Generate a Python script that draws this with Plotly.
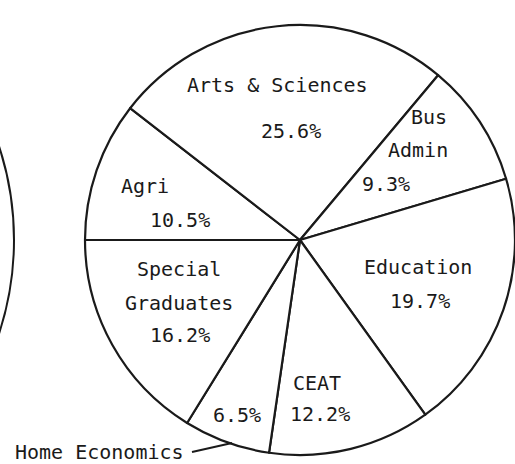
import plotly.graph_objects as go

W, H = 515, 464

# ---- data ----
categories = ["Agri", "Arts & Sciences", "Bus Admin", "Education", "CEAT",
              "Home Economics", "Special Graduates"]
shares = [10.5, 25.6, 9.3, 19.7, 12.2, 6.5, 16.2]
name_lines = [["Agri"], ["Arts & Sciences"], ["Bus", "Admin"], ["Education"],
              ["CEAT"], ["Home Economics"], ["Special", "Graduates"]]

# ---- label placement (pixel coords, from top-left) ----
name_pos = [[(145, 186)], [(277, 85)], [(429, 117), (418, 150)], [(418, 267)],
            [(317, 383)], [(99, 452)], [(179, 269), (179, 303)]]
pct_pos = [(180, 220), (291, 131), (386, 184), (420, 301), (320, 414),
           (237, 415), (180, 335)]

FONT = dict(family="DejaVu Sans Mono", size=20, color="#1a1a1a")

# pie: radius 215 px, centre (300, 240)
R_PIE = 215
a = 1 - 2 * R_PIE / W
fig = go.Figure()
fig.add_trace(go.Pie(
    labels=categories,
    values=shares,
    sort=False,
    direction="clockwise",
    rotation=-90,
    textinfo="none",
    hoverinfo="label+percent",
    marker=dict(colors=["white"] * len(categories),
                line=dict(color="#1a1a1a", width=2.2)),
    domain=dict(x=[a, 1.0], y=[0.0, 2 * (1 - 240 / H)]),
    showlegend=False,
))


def px(x, y):
    return x / W, 1 - y / H


annotations = []
for lines, poss, val, ppos in zip(name_lines, name_pos, shares, pct_pos):
    for text, (x, y) in zip(lines, poss):
        ax, ay = px(x, y)
        annotations.append(dict(x=ax, y=ay, xref="paper", yref="paper",
                                text=text, showarrow=False, font=FONT,
                                xanchor="center", yanchor="middle"))
    ax, ay = px(*ppos)
    annotations.append(dict(x=ax, y=ay, xref="paper", yref="paper",
                            text=f"{val:.1f}%", showarrow=False, font=FONT,
                            xanchor="center", yanchor="middle"))

shapes = []
# leader line for Home Economics
x0, y0 = px(192, 452)
x1, y1 = px(232, 443)
shapes.append(dict(type="line", xref="paper", yref="paper", x0=x0, y0=y0,
                   x1=x1, y1=y1, line=dict(color="#1a1a1a", width=2)))
# edge of neighbouring pie on the left
R = 300
cx, cy = 14 - R, 240
shapes.append(dict(type="circle", xref="paper", yref="paper",
                   x0=(cx - R) / W, x1=(cx + R) / W,
                   y0=1 - (cy + R) / H, y1=1 - (cy - R) / H,
                   line=dict(color="#1a1a1a", width=2)))

fig.update_layout(
    width=W, height=H,
    margin=dict(l=0, r=0, t=0, b=0),
    paper_bgcolor="white",
    plot_bgcolor="white",
    annotations=annotations,
    shapes=shapes,
)

fig.write_html("out.html",
               config={"displayModeBar": False},
               post_script="document.body.style.margin='0';"
                           "document.body.style.overflow='hidden';")
